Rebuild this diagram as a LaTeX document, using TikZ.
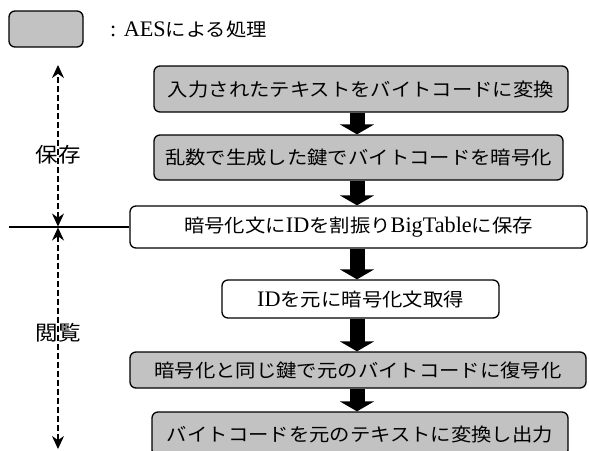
\documentclass[tikz,border=0pt]{standalone}
\usepackage{fontspec}
\setmainfont[Scale=1.2]{Liberation Serif}
\newfontfamily\jp[FakeStretch=1.1]{Noto Sans CJK JP}
\usetikzlibrary{arrows.meta}
\newcommand\boxfont{\fontsize{18.5}{21}\selectfont}
\newcommand\sidefont{\fontsize{20.5}{23}\selectfont}
\begin{document}
\begin{tikzpicture}[x=1pt,y=-1pt,
  box/.style={draw, line width=1.3pt, rounded corners=6pt, inner sep=0pt, align=center, font=\boxfont},
  aes/.style={box, fill=black!24},
  plainbox/.style={box, fill=white},
  flow/.style={line width=15pt, -{Triangle[width=34pt,length=10pt]}},
  span/.style={dash pattern=on 6pt off 3pt, line width=1.2pt, {Stealth[length=13pt,width=12pt]}-{Stealth[length=13pt,width=12pt]}},
  side/.style={font=\sidefont, inner sep=0pt}]
\useasboundingbox (0,0) rectangle (589,450);
\clip (0,0) rectangle (589,450);
% legend
\node[aes, minimum width=74pt, minimum height=36pt] (leg) at (46,29) {};
\node[anchor=west, font=\boxfont, inner sep=0pt] (legt) at (110,29) {: AES{\jp による処理}};
% process boxes
\node[aes, minimum width=414pt, minimum height=46pt] (b1) at (361,89) {{\jp 入力されたテキストをバイトコードに変換}};
\node[aes, minimum width=409pt, minimum height=45pt] (b2) at (358.5,157.5) {{\jp 乱数で生成した鍵でバイトコードを暗号化}};
\node[plainbox, minimum width=457pt, minimum height=42pt] (b3) at (358.5,227) {{\jp 暗号化文に}ID{\jp を割振り}BigTable{\jp に保存}};
\node[plainbox, minimum width=277pt, minimum height=38pt] (b4) at (360.5,299) {ID{\jp を元に暗号化文取得}};
\node[aes, minimum width=456pt, minimum height=36pt] (b5) at (358,370) {{\jp 暗号化と同じ鍵で元のバイトコードに復号化}};
\node[aes, minimum width=416pt, minimum height=44pt] (b6) at (360,434) {{\jp バイトコードを元のテキストに変換し出力}};
% flow arrows
\coordinate (ax) at (357,0);
\draw[flow] (b1.south -| ax) -- (b2.north -| ax);
\draw[flow] (b2.south -| ax) -- (b3.north -| ax);
\draw[flow] (b3.south -| ax) -- (b4.north -| ax);
\draw[flow] (b4.south -| ax) -- (b5.north -| ax);
\draw[flow] (b5.south -| ax) -- (b6.north -| ax);
% side spans
\coordinate (stop) at (58,65);
\coordinate (smid1) at (58,226.5);
\coordinate (smid2) at (58,227.5);
\coordinate (sbot) at (58,449);
\coordinate (hl) at (9,227);
\draw[span] (smid1) -- (stop);
\draw[span] (smid2) -- (sbot);
\draw[line width=1.2pt] (hl) -- (b3.west);
\node[side] (save) at (58,155) {{\jp 保存}};
\node[side] (view) at (58,333) {{\jp 閲覧}};
\end{tikzpicture}
\end{document}
